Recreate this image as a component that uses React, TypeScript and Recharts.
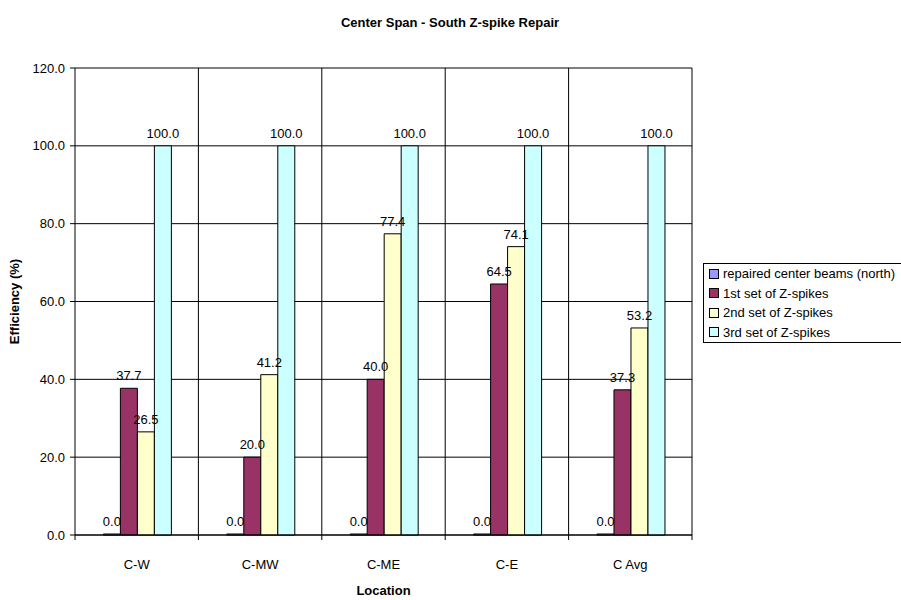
import { Bar, BarChart, CartesianGrid, LabelList, XAxis, YAxis } from 'recharts'

const locations = ['C-W', 'C-MW', 'C-ME', 'C-E', 'C Avg']
const repairedBeams = [0, 0, 0, 0, 0]
const firstSet = [37.7, 20.0, 40.0, 64.5, 37.3]
const secondSet = [26.5, 41.2, 77.4, 74.1, 53.2]
const thirdSet = [100, 100, 100, 100, 100]
const yTicks = [0, 20, 40, 60, 80, 100, 120]

const SERIES = [
  { key: 'repaired', label: 'repaired center beams (north)', color: '#9999FF' },
  { key: 'first', label: '1st set of Z-spikes', color: '#993366' },
  { key: 'second', label: '2nd set of Z-spikes', color: '#FFFFCC' },
  { key: 'third', label: '3rd set of Z-spikes', color: '#CCFFFF' },
]

const data = locations.map((loc, i) => ({
  loc,
  repaired: repairedBeams[i],
  first: firstSet[i],
  second: secondSet[i],
  third: thirdSet[i],
}))

const W = 901
const H = 600
const M = { top: 68, right: 209, left: 0, bottom: 0 }
const Y_W = 75
const X_H = 65
const PLOT_W = W - M.right - Y_W
const BAND = PLOT_W / locations.length
const FONT = '"Liberation Sans", Arial, sans-serif'
const FS = 13

function XTick(props: any) {
  const { x, y, payload } = props
  return (
    <g>
      <line x1={x - BAND / 2} x2={x - BAND / 2} y1={y - 8} y2={y - 3} stroke="#000" />
      {payload.index === locations.length - 1 && (
        <line x1={x + BAND / 2} x2={x + BAND / 2} y1={y - 8} y2={y - 3} stroke="#000" />
      )}
      <text x={x} y={y + 26} textAnchor="middle" fontSize={FS} fontFamily={FONT} fill="#000">
        {payload.value}
      </text>
    </g>
  )
}

function LegendBox() {
  return (
    <div
      style={{
        position: 'absolute',
        left: 703,
        top: 263,
        border: '1px solid #000',
        background: '#fff',
        padding: '0 4px 0 5px',
        fontFamily: FONT,
        fontSize: FS,
        width: 210,
        boxSizing: 'border-box',
      }}
    >
      {SERIES.map((s) => (
        <div key={s.key} style={{ display: 'flex', alignItems: 'center', height: 19.5, whiteSpace: 'nowrap' }}>
          <span
            style={{
              display: 'inline-block',
              width: 8,
              height: 8,
              background: s.color,
              border: '1px solid #000',
              marginRight: 4,
            }}
          />
          {s.label}
        </div>
      ))}
    </div>
  )
}

export default function App() {
  return (
    <div style={{ position: 'absolute', left: 0, top: 0, width: W, height: H, background: '#fff', overflow: 'hidden' }}>
      <BarChart
        width={W}
        height={H}
        data={data}
        margin={M}
        barCategoryGap="23%"
        barGap={0}
        style={{ fontFamily: FONT }}
      >
        <text x={450} y={27} textAnchor="middle" fontSize={FS} fontWeight="bold" fontFamily={FONT}>
          Center Span - South Z-spike Repair
        </text>
        <CartesianGrid
          stroke="#000"
          strokeWidth={1}
          verticalCoordinatesGenerator={({ offset }: any) =>
            locations.map((_, i) => offset.left + (i + 1) * (offset.width / locations.length))
          }
        />
        <XAxis
          dataKey="loc"
          height={X_H}
          interval={0}
          tickLine={false}
          axisLine={{ stroke: '#000' }}
          tick={<XTick />}
          label={{
            value: 'Location',
            position: 'insideBottom',
            offset: 5,
            fontSize: FS,
            fontWeight: 'bold',
            fill: '#000',
            fontFamily: FONT,
          }}
        />
        <YAxis
          width={Y_W}
          domain={[0, 120]}
          ticks={yTicks}
          interval={0}
          tickFormatter={(v: number) => v.toFixed(1)}
          tick={{ fontSize: FS, fill: '#000', fontFamily: FONT }}
          tickSize={5}
          tickMargin={5}
          tickLine={{ stroke: '#000' }}
          axisLine={{ stroke: '#000' }}
          label={{
            value: 'Efficiency (%)',
            angle: -90,
            position: 'insideLeft',
            offset: 14,
            fontSize: FS,
            fontWeight: 'bold',
            fill: '#000',
            fontFamily: FONT,
            style: { textAnchor: 'middle' },
          }}
        />
        {SERIES.map((s) => (
          <Bar
            key={s.key}
            dataKey={s.key}
            name={s.label}
            fill={s.color}
            stroke="#000"
            strokeWidth={1}
            minPointSize={s.key === 'repaired' ? 1 : 0}
            isAnimationActive={false}
          >
            <LabelList
              dataKey={s.key}
              position="top"
              offset={8}
              formatter={(v: any) => Number(v).toFixed(1)}
              style={{ fontSize: FS, fill: '#000', fontFamily: FONT }}
            />
          </Bar>
        ))}
      </BarChart>
      <LegendBox />
    </div>
  )
}
